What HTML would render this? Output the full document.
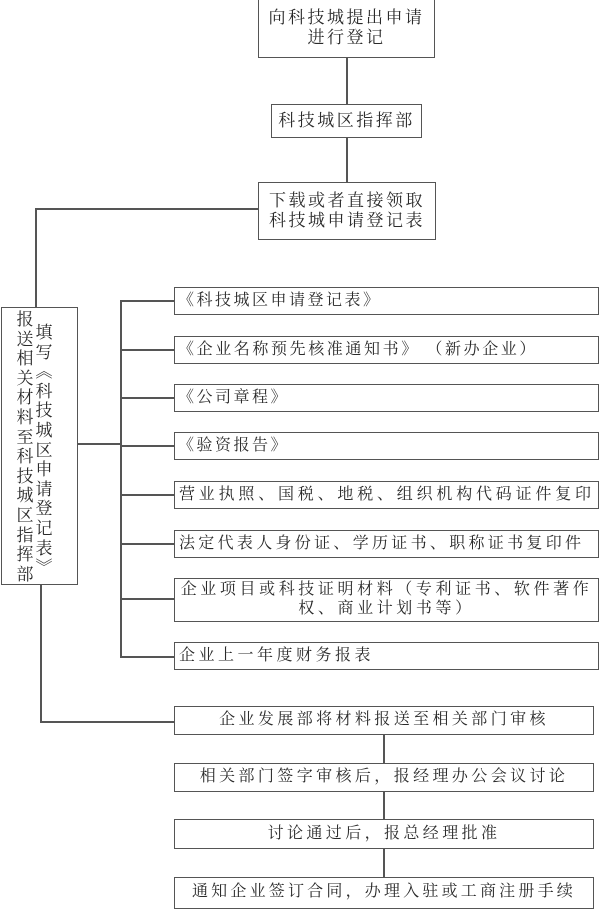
<!DOCTYPE html>
<html><head><meta charset="utf-8"><style>
body{margin:0;width:600px;height:907px;background:#fff;position:relative;overflow:hidden;font-family:"Liberation Serif","Noto Serif CJK SC","Noto Sans CJK SC",serif;color:#2a2a2a}
.b{position:absolute;border:1.5px solid #555;box-sizing:border-box;background:#fff}
.t{position:absolute;white-space:nowrap;font-size:16px;line-height:20px}
.h{position:absolute;height:1.5px;background:#555}
.v{position:absolute;width:1.5px;background:#555}
.col{position:absolute;width:18px;font-size:17px;line-height:19.6px;text-align:center;font-family:"Noto Serif CJK SC","Noto Sans CJK SC",serif}
</style></head><body>
<div class="v" style="left:346px;top:58px;height:46px"></div>
<div class="v" style="left:346px;top:138px;height:44px"></div>
<div class="h" style="left:35px;top:208px;width:223px"></div>
<div class="v" style="left:35px;top:208px;height:99px"></div>
<div class="h" style="left:78px;top:443px;width:42px"></div>
<div class="v" style="left:120px;top:300px;height:357px"></div>
<div class="h" style="left:120px;top:300px;width:54px"></div>
<div class="h" style="left:120px;top:349px;width:54px"></div>
<div class="h" style="left:120px;top:397px;width:54px"></div>
<div class="h" style="left:120px;top:445px;width:54px"></div>
<div class="h" style="left:120px;top:494px;width:54px"></div>
<div class="h" style="left:120px;top:543px;width:54px"></div>
<div class="h" style="left:120px;top:598px;width:54px"></div>
<div class="h" style="left:120px;top:656px;width:54px"></div>
<div class="v" style="left:40px;top:585px;height:137px"></div>
<div class="h" style="left:40px;top:721px;width:134px"></div>
<div class="v" style="left:383px;top:735px;height:28px"></div>
<div class="v" style="left:383px;top:792px;height:27px"></div>
<div class="v" style="left:383px;top:849px;height:28px"></div>

<div class="b" style="left:258px;top:-2px;width:177px;height:60px"></div>
<div class="t" style="left:258px;top:8px;width:177px;text-align:center;font-size:17px;letter-spacing:2.5px">向科技城提出申请<br>进行登记</div>
<div class="b" style="left:271px;top:104px;width:151px;height:34px"></div>
<div class="t" style="left:271px;top:111px;width:151px;text-align:center;font-size:17px;letter-spacing:2.5px">科技城区指挥部</div>
<div class="b" style="left:258px;top:182px;width:178px;height:58px"></div>
<div class="t" style="left:258px;top:191px;width:178px;text-align:center;font-size:17px;letter-spacing:2.5px">下载或者直接领取<br>科技城申请登记表</div>

<div class="b" style="left:1px;top:307px;width:77px;height:278px"></div>
<div class="col" style="left:16px;top:308px">报<br>送<br>相<br>关<br>材<br>料<br>至<br>科<br>技<br>城<br>区<br>指<br>挥<br>部</div>
<div class="col" style="left:35px;top:321px">填<br>写<br>︽<br>科<br>技<br>城<br>区<br>申<br>请<br>登<br>记<br>表<br>︾</div>

<div class="b" style="left:174px;top:287px;width:425px;height:28px"></div>
<div class="t" style="left:178px;top:291px;letter-spacing:2.5px">《科技城区申请登记表》</div>
<div class="b" style="left:174px;top:336px;width:425px;height:28px"></div>
<div class="t" style="left:178px;top:340px;letter-spacing:2.6px">《企业名称预先核准通知书》 （新办企业）</div>
<div class="b" style="left:174px;top:384px;width:425px;height:28px"></div>
<div class="t" style="left:178px;top:388px;letter-spacing:2.5px">《公司章程》</div>
<div class="b" style="left:174px;top:432px;width:425px;height:28px"></div>
<div class="t" style="left:178px;top:436px;letter-spacing:2.5px">《验资报告》</div>
<div class="b" style="left:174px;top:481px;width:425px;height:28px"></div>
<div class="t" style="left:179px;top:485px;letter-spacing:3.8px">营业执照、国税、地税、组织机构代码证件复印</div>
<div class="b" style="left:174px;top:530px;width:425px;height:28px"></div>
<div class="t" style="left:179px;top:534px;letter-spacing:3.3px">法定代表人身份证、学历证书、职称证书复印件</div>
<div class="b" style="left:174px;top:578px;width:425px;height:44px"></div>
<div class="t" style="left:174px;top:580px;width:425px;text-align:center;line-height:19px;letter-spacing:3.6px">企业项目或科技证明材料（专利证书、软件著作<br>权、商业计划书等）</div>
<div class="b" style="left:174px;top:642px;width:425px;height:28px"></div>
<div class="t" style="left:179px;top:646px;letter-spacing:3.5px">企业上一年度财务报表</div>

<div class="b" style="left:174px;top:706px;width:420px;height:29px"></div>
<div class="t" style="left:174px;top:710px;width:420px;text-align:center;letter-spacing:3.4px">企业发展部将材料报送至相关部门审核</div>
<div class="b" style="left:174px;top:763px;width:420px;height:29px"></div>
<div class="t" style="left:174px;top:767px;width:420px;text-align:center;letter-spacing:3.4px">相关部门签字审核后，报经理办公会议讨论</div>
<div class="b" style="left:174px;top:819px;width:420px;height:30px"></div>
<div class="t" style="left:174px;top:824px;width:420px;text-align:center;letter-spacing:3.4px">讨论通过后，报总经理批准</div>
<div class="b" style="left:174px;top:877px;width:420px;height:32px"></div>
<div class="t" style="left:174px;top:882px;width:420px;text-align:center;letter-spacing:3.2px">通知企业签订合同，办理入驻或工商注册手续</div>
</body></html>
